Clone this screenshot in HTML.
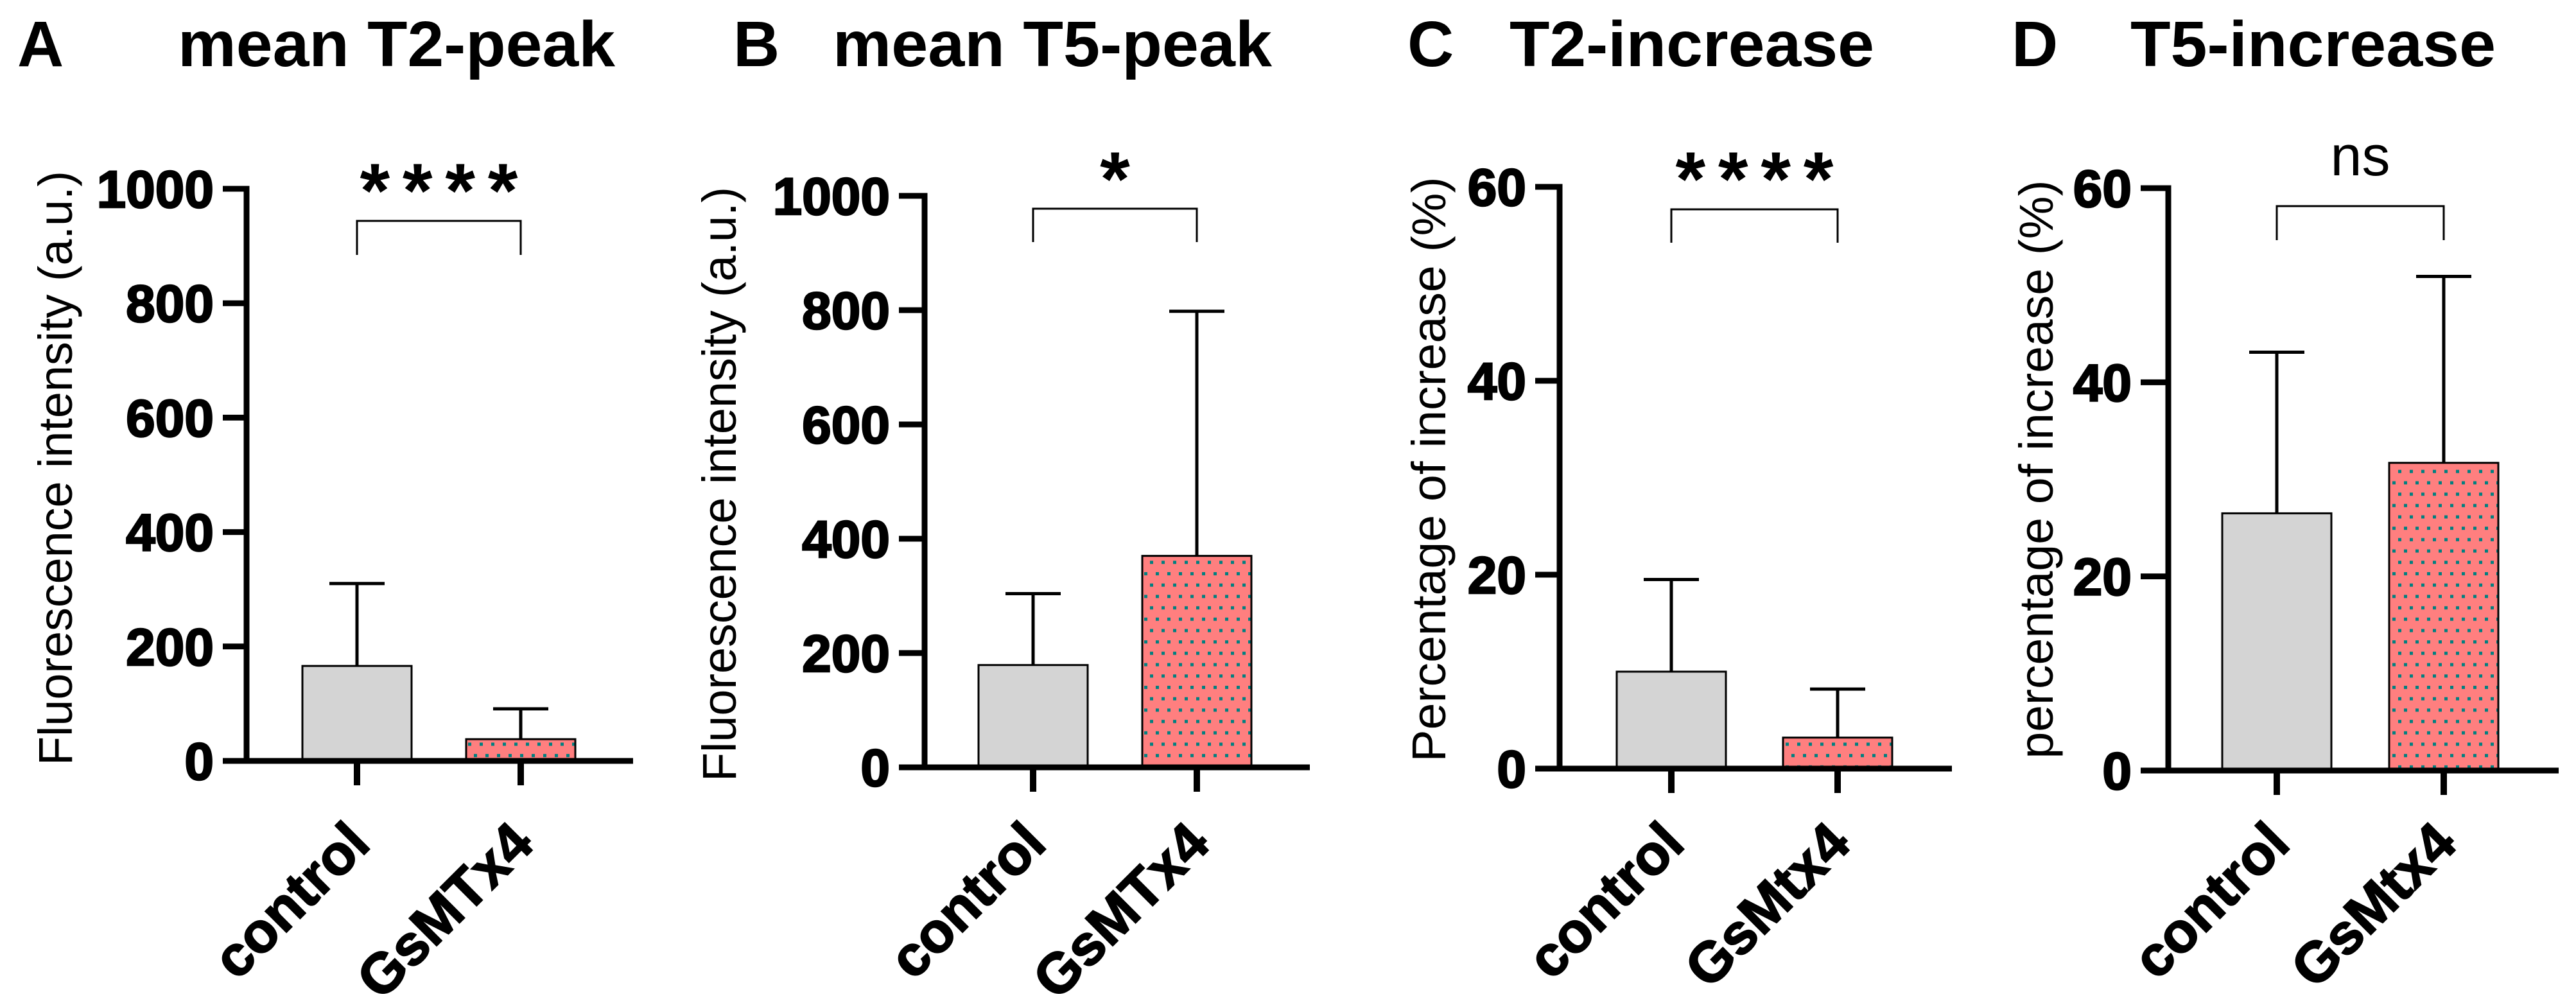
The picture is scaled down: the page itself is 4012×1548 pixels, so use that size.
<!DOCTYPE html>
<html><head><meta charset="utf-8">
<style>
html,body{margin:0;padding:0;background:#fff;}
svg{display:block;}
text{font-family:"Liberation Sans",Arial,sans-serif;}
</style></head>
<body>
<svg id="fig" width="4012" height="1548" viewBox="0 0 4012 1548" xmlns="http://www.w3.org/2000/svg">
<defs>
<pattern id="dots" patternUnits="userSpaceOnUse" width="18" height="35.4">
<rect width="18" height="35.4" fill="#ff7f7f"/>
<rect x="0" y="6" width="5" height="5" fill="#008080"/>
<rect x="9" y="23.7" width="5" height="5" fill="#008080"/>
</pattern>
</defs>
</svg>
<script>
// ---- data ----
const categoriesA = ["control", "GsMTx4"];
const meansA = [166, 38];
const sdA = [144, 53];
const ticksA = [0, 200, 400, 600, 800, 1000];

const categoriesB = ["control", "GsMTx4"];
const meansB = [179, 370];
const sdB = [125, 428];
const ticksB = [0, 200, 400, 600, 800, 1000];

const categoriesC = ["control", "GsMtx4"];
const meansC = [10.0, 3.2];
const sdC = [9.5, 5.0];
const ticksC = [0, 20, 40, 60];

const categoriesD = ["control", "GsMtx4"];
const meansD = [26.5, 31.7];
const sdD = [16.6, 19.2];
const ticksD = [0, 20, 40, 60];

const NS = "http://www.w3.org/2000/svg";
const svg = document.getElementById("fig");
function mk(tag, attrs, parent) {
  const e = document.createElementNS(NS, tag);
  for (const k in attrs) e.setAttribute(k, attrs[k]);
  (parent || svg).appendChild(e);
  return e;
}

function panel(p) {
  const g = mk("g", {});
  
  
  const max = p.ticks[p.ticks.length - 1];
  const y = v => p.y0 - (v / max) * (p.y0 - p.yTop);
  const xc = i => p.axisX + p.off + i * p.step;

  const L = mk("text", {x: p.letterX, y: 103, "font-size": 100, "font-weight": "bold"}, g);
  L.textContent = p.id;
  
  
  const T = mk("text", {x: p.titleX, y: 103, "font-size": 100, "font-weight": "bold", textLength: p.titleW, lengthAdjust: "spacingAndGlyphs"}, g);
  T.textContent = p.title;
  
  

  const YL = mk("text", {x: 0, y: 0, "font-size": 74, "text-anchor": "middle", textLength: p.ylW, lengthAdjust: "spacingAndGlyphs",
    transform: "translate(" + p.ylX + "," + p.ylY + ") rotate(-90)"}, g);
  YL.textContent = p.ylabel;
  
  

  p.means.forEach((m, i) => {
    const cx = xc(i);
    const top = y(m);
    const r = mk("rect", {x: cx - 85, y: top, width: 170, height: p.y0 - top,
      fill: i === 0 ? "#d4d4d4" : "url(#dots)", stroke: "#000", "stroke-width": 3}, g);
    
    
    const et = y(m + p.sd[i]);
    const el = mk("line", {x1: cx, x2: cx, y1: top, y2: et, stroke: "#000", "stroke-width": 5}, g);
    
    
    const ec = mk("line", {x1: cx - 43, x2: cx + 43, y1: et, y2: et, stroke: "#000", "stroke-width": 5}, g);
    
    
    const xt = mk("line", {x1: cx, x2: cx, y1: p.y0, y2: p.y0 + 38, stroke: "#000", "stroke-width": 10}, g);
    
    
    const ax = cx + 24, ay = 1318;
    const cl = mk("text", {x: 0, y: 0, "font-size": 88, "font-weight": "bold", "text-anchor": "end",
      stroke: "#000", "stroke-width": 2,
      transform: "translate(" + ax + "," + ay + ") rotate(-45)"}, g);
    cl.textContent = p.cats[i];
    
    
  });

  const ya = mk("line", {x1: p.axisX, x2: p.axisX, y1: p.yTop - 4.5, y2: p.y0 + 4.5, stroke: "#000", "stroke-width": 9}, g);
  
  
  const xa = mk("line", {x1: p.tickLeft, x2: p.xEnd, y1: p.y0, y2: p.y0, stroke: "#000", "stroke-width": 9}, g);
  
  
  p.ticks.forEach(t => {
    const ty = y(t);
    const tl = mk("line", {x1: p.tickLeft, x2: p.axisX, y1: ty, y2: ty, stroke: "#000", "stroke-width": 9}, g);
    
    
    const tt = mk("text", {x: p.tickLeft - 14, y: ty + 29, "font-size": 82, "font-weight": "bold", "text-anchor": "end",
      stroke: "#000", "stroke-width": 2.5}, g);
    tt.textContent = t;
    
    
  });

  const x1 = xc(0), x2 = xc(1);
  const br = mk("polyline", {points: x1 + "," + p.brEnd + " " + x1 + "," + p.brY + " " + x2 + "," + p.brY + " " + x2 + "," + p.brEnd,
    fill: "none", stroke: "#000", "stroke-width": 3}, g);
  
  
  const st = mk("text", {x: (x1 + x2) / 2, y: p.sigY, "font-size": p.sig === "ns" ? 88 : 120,
    "font-weight": p.sig === "ns" ? "normal" : "bold", "text-anchor": "middle"}, g);
  if (p.sigW) { st.setAttribute("textLength", p.sigW); st.setAttribute("lengthAdjust", "spacing"); }
  st.textContent = p.sig;
  
  
}

panel({id: "A", title: "mean T2-peak", letterX: 27, titleX: 277, titleW: 681,
  ylabel: "Fluorescence intensity (a.u.)", ylX: 112, ylY: 729, ylW: 926,
  cats: categoriesA, means: meansA, sd: sdA, ticks: ticksA,
  axisX: 384, tickLeft: 347, xEnd: 986, yTop: 294, y0: 1185, off: 172, step: 255,
  brY: 344, brEnd: 397, sig: "****", sigY: 338, sigW: 246});
panel({id: "B", title: "mean T5-peak", letterX: 1142, titleX: 1297, titleW: 684,
  ylabel: "Fluorescence intensity (a.u.)", ylX: 1146, ylY: 754, ylW: 926,
  cats: categoriesB, means: meansB, sd: sdB, ticks: ticksB,
  axisX: 1440, tickLeft: 1400, xEnd: 2040, yTop: 305, y0: 1195, off: 169, step: 255,
  brY: 325, brEnd: 377, sig: "*", sigY: 320});
panel({id: "C", title: "T2-increase", letterX: 2192, titleX: 2351, titleW: 568,
  ylabel: "Percentage of increase (%)", ylX: 2251, ylY: 731, ylW: 911,
  cats: categoriesC, means: meansC, sd: sdC, ticks: ticksC,
  axisX: 2429, tickLeft: 2391, xEnd: 3040, yTop: 291, y0: 1197, off: 174, step: 259,
  brY: 326, brEnd: 378, sig: "****", sigY: 320, sigW: 246});
panel({id: "D", title: "T5-increase", letterX: 3133, titleX: 3318, titleW: 569,
  ylabel: "percentage of increase (%)", ylX: 3197, ylY: 731, ylW: 901,
  cats: categoriesD, means: meansD, sd: sdD, ticks: ticksD,
  axisX: 3377, tickLeft: 3334, xEnd: 3985, yTop: 293, y0: 1200, off: 169, step: 260,
  brY: 321, brEnd: 374, sig: "ns", sigY: 273});
</script>
</body></html>
